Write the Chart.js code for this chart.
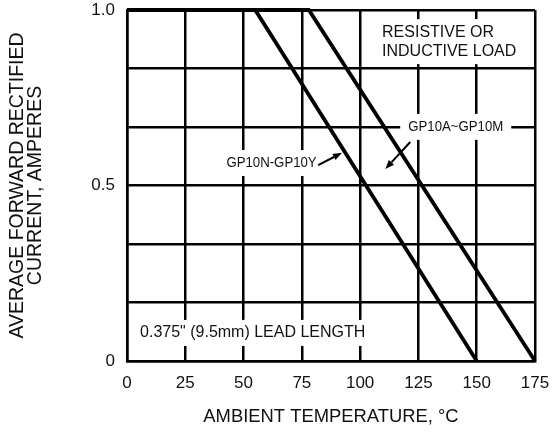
<!DOCTYPE html>
<html>
<head>
<meta charset="utf-8">
<script src="https://cdn.jsdelivr.net/npm/chart.js@4.4.1/dist/chart.umd.min.js"></script>
<style>
  html, body { margin: 0; padding: 0; background: #fff; }
  #wrap { width: 553px; height: 432px; position: relative; }
</style>
</head>
<body>
<div id="wrap"><canvas id="c" width="553" height="432"></canvas></div>
<script>
// ---- data ----
const seriesNames = ['GP10A~GP10M', 'GP10N-GP10Y'];
const tempA = [0, 78, 175];      // °C
const currentA = [1.0, 1.0, 0];  // A
const tempN = [0, 55, 150];
const currentN = [1.0, 1.0, 0];

const xTicks = [0, 25, 50, 75, 100, 125, 150, 175];
const yGrid = [0, 1/6, 2/6, 3/6, 4/6, 5/6, 1];
const yTickLabels = {0: '0', 3: '0.5', 6: '1.0'};

const xTitle = 'AMBIENT TEMPERATURE, °C';
const yTitle = ['AVERAGE FORWARD RECTIFIED', 'CURRENT, AMPERES'];

// annotation texts with anchor positions in data units
const notes = [
  { lines: ['RESISTIVE OR', 'INDUCTIVE LOAD'], x: 109.4, y: 0.937, align: 'left', narrow: false },
  { lines: ['GP10A~GP10M'], x: 141, y: 0.667, align: 'center', narrow: true,
    arrow: { from: [121.5, 0.624], to: [110.8, 0.547] } },
  { lines: ['GP10N-GP10Y'], x: 62, y: 0.564, align: 'center', narrow: true,
    arrow: { from: [82, 0.558], to: [92.2, 0.593] } },
  { lines: ['0.375" (9.5mm) LEAD LENGTH'], x: 5.6, y: 0.080, align: 'left', narrow: false }
];

const FONT = '"Liberation Sans", Arial, Helvetica, sans-serif';
const NARROW_SCALE = 0.88;

function noteFont(n) {
  return n.narrow ? ('15px ' + FONT) : ('16px ' + FONT);
}
function noteWidth(ctx, n) {
  ctx.font = noteFont(n);
  const w = Math.max(...n.lines.map(l => ctx.measureText(l).width));
  return n.narrow ? w * NARROW_SCALE : w;
}

const notesPlugin = {
  id: 'notes',
  beforeDatasetsDraw(chart) {
    const ctx = chart.ctx, xs = chart.scales.x, ys = chart.scales.y;
    ctx.save();
    notes.forEach(n => {
      const w = noteWidth(ctx, n);
      const px = xs.getPixelForValue(n.x), py = ys.getPixelForValue(n.y);
      const lh = 19;
      const left = n.align === 'left' ? px : px - w / 2;
      ctx.fillStyle = '#fff';
      ctx.fillRect(left - 8, py - 13, w + 16, 26 + lh * (n.lines.length - 1));
    });
    ctx.restore();
  },
  afterDatasetsDraw(chart) {
    const ctx = chart.ctx, xs = chart.scales.x, ys = chart.scales.y;
    notes.forEach(n => {
      ctx.save();
      ctx.font = noteFont(n);
      ctx.fillStyle = '#111';
      ctx.textBaseline = 'middle';
      ctx.textAlign = n.align;
      const px = xs.getPixelForValue(n.x), py = ys.getPixelForValue(n.y);
      ctx.translate(px, py);
      if (n.narrow) ctx.scale(NARROW_SCALE, 1);
      n.lines.forEach((l, i) => ctx.fillText(l, 0, i * 19));
      ctx.restore();
      if (n.arrow) {
        ctx.save();
        const x1 = xs.getPixelForValue(n.arrow.from[0]), y1 = ys.getPixelForValue(n.arrow.from[1]);
        const x2 = xs.getPixelForValue(n.arrow.to[0]), y2 = ys.getPixelForValue(n.arrow.to[1]);
        const ang = Math.atan2(y2 - y1, x2 - x1);
        const hl = 9, hw = 3.5;
        ctx.strokeStyle = '#000';
        ctx.lineWidth = 2;
        ctx.beginPath();
        ctx.moveTo(x1, y1);
        ctx.lineTo(x2 - hl * Math.cos(ang), y2 - hl * Math.sin(ang));
        ctx.stroke();
        ctx.fillStyle = '#000';
        ctx.beginPath();
        ctx.moveTo(x2, y2);
        ctx.lineTo(x2 - hl * Math.cos(ang) + hw * Math.sin(ang), y2 - hl * Math.sin(ang) - hw * Math.cos(ang));
        ctx.lineTo(x2 - hl * Math.cos(ang) - hw * Math.sin(ang), y2 - hl * Math.sin(ang) + hw * Math.cos(ang));
        ctx.closePath();
        ctx.fill();
        ctx.restore();
      }
    });
  }
};

const toPts = (xsArr, ysArr) => xsArr.map((x, i) => ({ x: x, y: ysArr[i] }));

new Chart(document.getElementById('c'), {
  type: 'line',
  data: {
    datasets: [
      { label: seriesNames[0], data: toPts(tempA, currentA), borderColor: '#000', borderWidth: 3.8,
        pointRadius: 0, fill: false, tension: 0, clip: false },
      { label: seriesNames[1], data: toPts(tempN, currentN), borderColor: '#000', borderWidth: 3.8,
        pointRadius: 0, fill: false, tension: 0, clip: false }
    ]
  },
  options: {
    responsive: false,
    animation: false,
    devicePixelRatio: 1,
    layout: { padding: { top: 10, right: 18, left: 0, bottom: 0 } },
    plugins: { legend: { display: false }, tooltip: { enabled: false } },
    scales: {
      x: {
        type: 'linear', min: 0, max: 175,
        afterBuildTicks: s => { s.ticks = xTicks.map(v => ({ value: v })); },
        afterFit: s => { s.height = 71; s.paddingLeft = 0; s.paddingRight = 0; },
        grid: { color: '#000', lineWidth: 2.5, drawTicks: false },
        border: { color: '#000', width: 2.5 },
        ticks: { color: '#111', padding: 12, font: { family: FONT, size: 17 }, maxRotation: 0 },
        title: { display: true, text: xTitle, color: '#111', font: { family: FONT, size: 18.4 }, padding: { top: 4, bottom: 4 } }
      },
      y: {
        type: 'linear', min: 0, max: 1,
        afterBuildTicks: s => { s.ticks = yGrid.map(v => ({ value: v })); },
        afterFit: s => { s.width = 127; s.paddingTop = 0; s.paddingBottom = 0; },
        grid: { color: '#000', lineWidth: 2.5, drawTicks: false },
        border: { color: '#000', width: 2.5 },
        ticks: { color: '#111', padding: 12, font: { family: FONT, size: 17 },
          callback: (v, i) => (yTickLabels[i] !== undefined ? yTickLabels[i] : '') },
        title: { display: true, text: yTitle, color: '#111', font: { family: FONT, size: 19.5, lineHeight: 0.9 }, padding: { top: 9.2, bottom: 0 } }
      }
    }
  },
  plugins: [notesPlugin]
});
</script>
</body>
</html>
